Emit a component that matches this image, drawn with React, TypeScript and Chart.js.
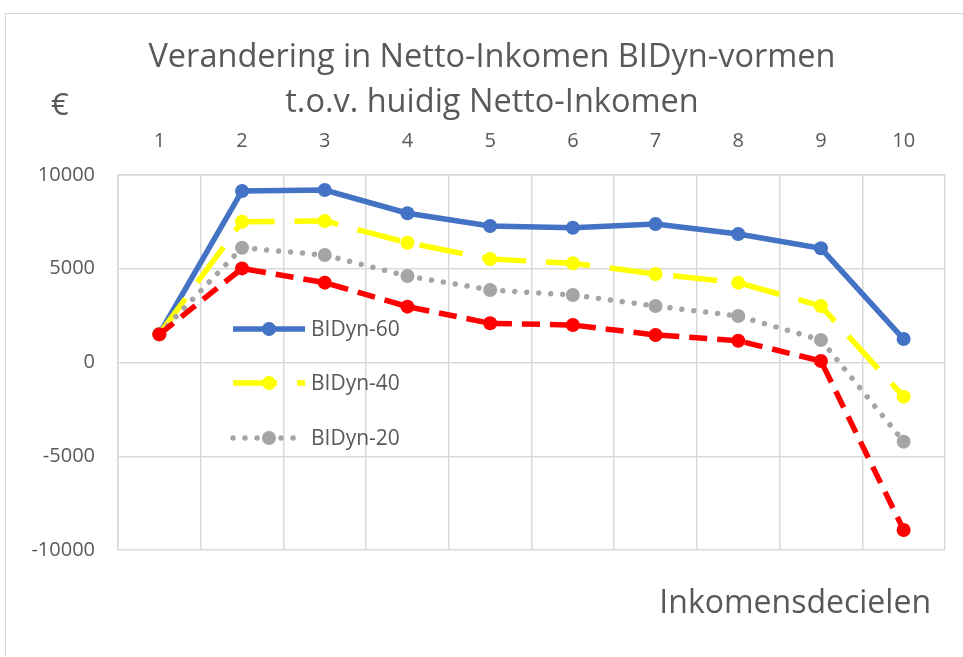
import React, { useEffect, useRef } from "react";
import { Chart, registerables } from "chart.js";

Chart.register(...registerables);

const categories = ["1", "2", "3", "4", "5", "6", "7", "8", "9", "10"];
const bidyn60 = [1520, 9150, 9200, 7960, 7280, 7190, 7390, 6850, 6090, 1250];
const bidyn40 = [1520, 7510, 7550, 6390, 5520, 5290, 4720, 4260, 3010, -1820];
const bidyn20 = [1520, 6120, 5730, 4610, 3870, 3600, 3010, 2480, 1200, -4220];
const bidyn0 = [1500, 5020, 4260, 2980, 2090, 2000, 1470, 1160, 80, -8930];

const titleLines = ["Verandering in Netto-Inkomen BIDyn-vormen", "t.o.v. huidig Netto-Inkomen"];
const yUnit = "€";
const xTitle = "Inkomensdecielen";
const legendLabels = ["BIDyn-60", "BIDyn-40", "BIDyn-20"];

const TEXT = "#595959";
const GRID = "#d9d9d9";
const FONT = "'Open Sans', sans-serif";

const decor = {
  id: "decor",
  afterDatasetsDraw(chart: any) {
    const { ctx, chartArea } = chart;
    ctx.save();
    const rows = [154, 208, 263];
    for (let i = 0; i < 3; i++) {
      const ds = chart.data.datasets[i];
      const y = chartArea.top + rows[i];
      const x0 = chartArea.left + 115;
      const x1 = x0 + 72;
      ctx.save();
      ctx.strokeStyle = ds.borderColor;
      ctx.lineWidth = ds.borderWidth;
      ctx.lineCap = ds.borderCapStyle || "butt";
      ctx.setLineDash(ds.borderDash || []);
      ctx.beginPath();
      ctx.moveTo(x0, y);
      ctx.lineTo(x1, y);
      ctx.stroke();
      ctx.setLineDash([]);
      ctx.fillStyle = ds.pointBackgroundColor;
      ctx.beginPath();
      ctx.arc((x0 + x1) / 2, y, ds.pointRadius, 0, Math.PI * 2);
      ctx.fill();
      ctx.restore();
      ctx.fillStyle = TEXT;
      ctx.font = `21px ${FONT}`;
      ctx.textAlign = "left";
      ctx.textBaseline = "middle";
      ctx.fillText(legendLabels[i], x1 + 6, y + 1);
    }
    ctx.restore();
  },
  afterDraw(chart: any) {
    const { ctx, chartArea } = chart;
    ctx.save();
    ctx.fillStyle = TEXT;
    ctx.font = `32.5px ${FONT}`;
    ctx.textAlign = "center";
    ctx.textBaseline = "middle";
    const cx = 492;
    ctx.fillText(titleLines[0], cx, chartArea.top - 117);
    ctx.fillText(titleLines[1], cx, chartArea.top - 72);
    ctx.textAlign = "left";
    ctx.font = `31px ${FONT}`;
    ctx.fillText(yUnit, chartArea.left - 67, chartArea.top - 69);
    ctx.textAlign = "right";
    ctx.font = `32px ${FONT}`;
    ctx.fillText(xTitle, chartArea.right - 14, chartArea.bottom + 54);
    ctx.restore();
  },
};

export default function App() {
  const ref = useRef<HTMLCanvasElement>(null);
  useEffect(() => {
    const common = {
      borderWidth: 5.5,
      pointRadius: 7,
      pointHoverRadius: 7,
      pointBorderWidth: 0,
      tension: 0,
      fill: false,
    };
    const chart = new Chart(ref.current!, {
      type: "line",
      data: {
        labels: categories,
        datasets: [
          {
            label: "BIDyn-60",
            data: bidyn60,
            borderColor: "#4472C4",
            backgroundColor: "#4472C4",
            pointBackgroundColor: "#4472C4",
            pointBorderColor: "#4472C4",
            order: 4,
            ...common,
          },
          {
            label: "BIDyn-40",
            data: bidyn40,
            borderColor: "#FFFF00",
            backgroundColor: "#FFFF00",
            pointBackgroundColor: "#FFFF00",
            pointBorderColor: "#FFFF00",
            borderDash: [44, 20],
            order: 3,
            ...common,
          },
          {
            label: "BIDyn-20",
            data: bidyn20,
            borderColor: "#A5A5A5",
            backgroundColor: "#A5A5A5",
            pointBackgroundColor: "#A5A5A5",
            pointBorderColor: "#A5A5A5",
            borderDash: [0.01, 12],
            borderCapStyle: "round",
            order: 2,
            ...common,
          },
          {
            label: "BIDyn-0",
            data: bidyn0,
            borderColor: "#FF0000",
            backgroundColor: "#FF0000",
            pointBackgroundColor: "#FF0000",
            pointBorderColor: "#FF0000",
            borderDash: [18, 10],
            order: 1,
            ...common,
          },
        ] as any,
      },
      options: {
        animation: false,
        responsive: false,
        devicePixelRatio: 1,
        layout: { padding: { top: 0, left: 0, right: 18, bottom: 107 } },
        plugins: {
          legend: { display: false },
          title: { display: false },
          tooltip: { enabled: false },
        },
        scales: {
          x: {
            type: "category",
            position: "top",
            offset: true,
            afterFit: (s: any) => {
              s.height = 175;
            },
            grid: { color: GRID, lineWidth: 1.5, offset: true, drawTicks: false },
            border: { display: true, color: GRID, width: 1.5 },
            ticks: { color: TEXT, font: { family: FONT, size: 20 }, padding: 22, maxRotation: 0 },
          },
          y: {
            min: -10000,
            max: 10000,
            afterFit: (s: any) => {
              s.width = 118;
            },
            grid: { color: GRID, lineWidth: 1.5, drawTicks: false },
            border: { display: true, color: GRID, width: 1.5 },
            ticks: {
              stepSize: 5000,
              color: TEXT,
              font: { family: FONT, size: 20 },
              padding: 23,
              callback: (v: any) => String(v),
            },
          },
        },
      } as any,
      plugins: [decor],
    });
    return () => chart.destroy();
  }, []);

  return (
    <div style={{ position: "fixed", left: 0, top: 0, width: 963, height: 657, overflow: "hidden", background: "#fff" }}>
      <div
        style={{
          position: "absolute",
          left: 5,
          top: 13,
          width: 1100,
          height: 800,
          border: "1.5px solid #d9d9d9",
        }}
      />
      <canvas ref={ref} width={963} height={657} style={{ position: "absolute", left: 0, top: 0 }} />
    </div>
  );
}
